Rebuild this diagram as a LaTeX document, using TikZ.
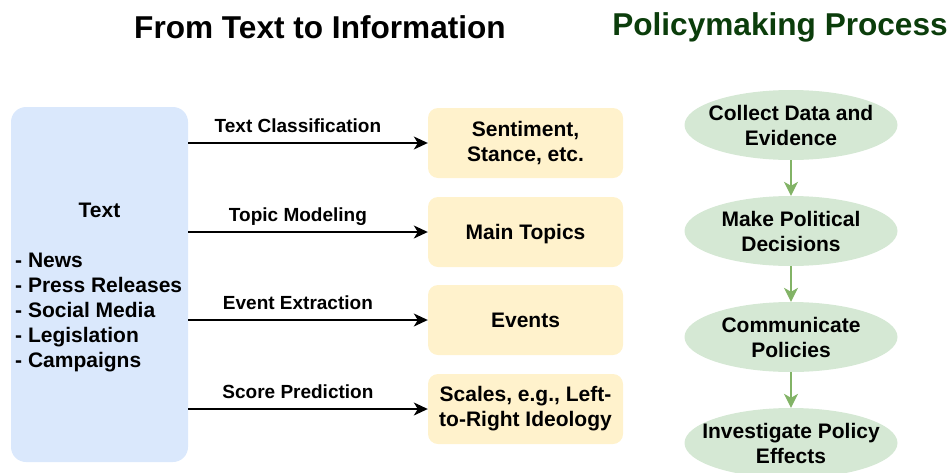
\documentclass[tikz,border=0pt]{standalone}
\usepackage{fontspec}
\setmainfont{Liberation Sans}
\usetikzlibrary{shapes.geometric}
\usetikzlibrary{arrows.meta}
\definecolor{srcblue}{HTML}{DAE8FC}
\definecolor{outyellow}{HTML}{FFF2CC}
\definecolor{stagegreen}{HTML}{D5E8D4}
\definecolor{flowgreen}{HTML}{82B366}
\definecolor{titlegreen}{HTML}{0B3D0B}

\begin{document}
\begin{tikzpicture}[x=1pt,y=-1pt,
  font=\bfseries\fontsize{21}{25}\selectfont,
  heading/.style={font=\bfseries\fontsize{31.6}{36}\selectfont},
  srcbox/.style={fill=srcblue,rounded corners=15pt,minimum width=177pt,minimum height=355pt,inner sep=0pt},
  outbox/.style={fill=outyellow,rounded corners=10pt,minimum width=195pt,minimum height=70pt,align=center,inner sep=0pt},
  stage/.style={ellipse,fill=stagegreen,minimum width=213pt,minimum height=70pt,inner xsep=-20pt,inner ysep=0pt,align=center},
  tolabel/.style={above=10pt,inner sep=0pt,text height=14pt,text depth=0pt,font=\bfseries\fontsize{19}{22}\selectfont},
  toarrow/.style={black,line width=1.3pt,-{Stealth[length=14pt,width=13pt,inset=4pt]}},
  stagearrow/.style={flowgreen,line width=1.3pt,-{Stealth[length=14pt,width=14pt,inset=4pt]}}]
            \useasboundingbox (0,0) rectangle (950,472);

            \node[heading] (lefttitle) at (320,27){From Text to Information};
            \node[heading,titlegreen] (righttitle) at (780,27){Policymaking Process};

            \node[srcbox] (src) at (99.5,284.5){};
            \node (srchead) at (99.5,210){Text};
            \node[anchor=west,align=left,inner sep=0pt] (srclist) at (15,312){- News\\- Press Releases\\- Social Media\\- Legislation\\- Campaigns};

            \node[outbox] (sentiment) at (525.5,143){Sentiment,\\Stance, etc.};
            \node[outbox,text depth=0pt] (topics) at (525.5,232){Main Topics};
            \node[outbox] (events) at (525.5,320){Events};
            \node[outbox] (scales) at (525.5,409){Scales, e.g., Left-\\to-Right Ideology};

            \draw[toarrow] (src.east |- sentiment.west) -- (sentiment.west) node[tolabel,pos=0.458]{Text Classification};
            \draw[toarrow] (src.east |- topics.west) -- (topics.west) node[tolabel,pos=0.458]{Topic Modeling};
            \draw[toarrow] (src.east |- events.west) -- (events.west) node[tolabel,pos=0.458]{Event Extraction};
            \draw[toarrow] (src.east |- scales.west) -- (scales.west) node[tolabel,pos=0.458]{Score Prediction};

            \node[stage] (collect) at (791,125){Collect Data and\\Evidence};
            \node[stage] (decide) at (791,231){Make Political\\Decisions};
            \node[stage] (communicate) at (791,337){Communicate\\Policies};
            \node[stage] (investigate) at (791,443){Investigate Policy\\Effects};

            \draw[stagearrow] (collect) -- (decide);
            \draw[stagearrow] (decide) -- (communicate);
            \draw[stagearrow] (communicate) -- (investigate);
        \end{tikzpicture}
\end{document}
